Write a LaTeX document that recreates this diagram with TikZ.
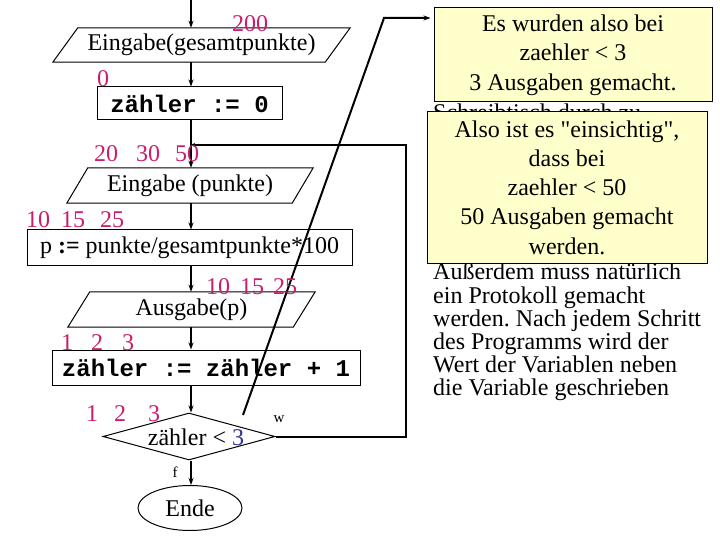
\documentclass[tikz,border=0pt]{standalone}
\usepackage{fontspec}
\setmainfont{Liberation Serif}[Ligatures=TeXOff]
\setmonofont{Liberation Mono}
\frenchspacing
\usetikzlibrary{shapes.geometric,arrows.meta}
\definecolor{mag}{RGB}{200,30,110}
\definecolor{navythree}{RGB}{50,50,140}
\definecolor{noteyellow}{RGB}{255,255,204}
\tikzset{
  base/.style={font=\fontsize{24}{23}\selectfont, inner sep=0pt},
  procbox/.style={base, draw, line width=1pt},
  iotext/.style={base},
  num/.style={base, text=mag},
  small/.style={font=\fontsize{15}{15}\selectfont, inner sep=0pt},
  conn/.style={line width=2pt, -{Stealth[length=7pt,width=5pt]}},
  plainline/.style={line width=2pt},
  note/.style={draw, fill=noteyellow, line width=1pt, inner sep=0pt, align=center,
    font=\fontsize{24}{29.3}\selectfont},
  para/.style={font=\fontsize{24}{23.2}\selectfont, inner sep=0pt, align=left},
}
\newcommand{\iopara}[7]{%
  \node[iotext, minimum width=#4pt, minimum height=#5pt] (#1) at (#2,#3) {#7};
  \draw[line width=1pt] ([xshift=#6/2]#1.north west) -- ([xshift=#6/2]#1.north east)
    -- ([xshift=-#6/2]#1.south east) -- ([xshift=-#6/2]#1.south west) -- cycle;}
\begin{document}
\begin{tikzpicture}[x=1pt,y=-1pt]
\useasboundingbox (0,0) rectangle (720,540);
\fill[white] (0,0) rectangle (720,540);

% right-hand paragraph (partly covered by the notes)
\node[para, anchor=west] (ptop) at (433,112) {Schreibtisch durch zu};
\node[para, anchor=west] (pbody) at (433,332) {Außerdem muss natürlich\\ein Protokoll gemacht\\werden. Nach jedem Schritt\\des Programms wird der\\Wert der Variablen neben\\die Variable geschrieben};

% notes
\node[note, minimum width=278pt, minimum height=94pt] (n1) at (573,55)
  {Es wurden also bei\\zaehler < 3\\3 Ausgaben gemacht.};
\node[note, minimum width=280pt, minimum height=151pt] (n2) at (567,187.5)
  {Also ist es "einsichtig",\\dass bei\\zaehler < 50\\50 Ausgaben gemacht\\werden.};

% flowchart
\coordinate (mx) at (191,0);
\iopara{e1}{201.5}{45}{272}{34}{25}{Eingabe(gesamtpunkte)}
\node[procbox, minimum width=185pt, minimum height=33pt] (z0) at (189.5,103.5) {\ttfamily\bfseries zähler := 0};
\iopara{e2}{190}{185.5}{225}{35}{21}{Eingabe (punkte)}
\node[procbox, minimum width=325pt, minimum height=35pt] (pz) at (189.5,247.5) {p {\bfseries :=} punkte/gesamtpunkte*100};
\iopara{e3}{191.5}{309.5}{225}{35}{22}{Ausgabe(p)}
\node[procbox, minimum width=308pt, minimum height=35pt] (z1) at (206,367.5) {\ttfamily\bfseries zähler := zähler + 1};
\node[diamond, draw, line width=1pt, minimum width=172pt, minimum height=47pt, inner sep=0pt] (dm) at (189,436.5) {};
\node[base] (dmt) at (196,437) {zähler < \textcolor{navythree}{3}};
\node[ellipse, draw, line width=1pt, minimum width=104pt, minimum height=45pt, inner sep=0pt, base] (en) at (190,508) {Ende};

% connectors
\draw[conn] (mx) -- (e1.north -| mx);
\draw[conn] (e1.south -| mx) -- (z0.north -| mx);
\draw[conn] (z0.south -| mx) -- (e2.north -| mx);
\draw[conn] (e2.south -| mx) -- (pz.north -| mx);
\draw[conn] (pz.south -| mx) -- (e3.north -| mx);
\draw[conn] (e3.south -| mx) -- (z1.north -| mx);
\draw[conn] (z1.south -| mx) -- (dm.north -| mx);
\draw[conn] (dm.south -| mx) -- (en.north -| mx);
\coordinate (lp) at (406,145);
\draw[plainline, -{Stealth[length=4pt,width=4pt]}] (dm.east) -| (lp) -- (lp -| mx);

% diagonal pointer to the note
\coordinate (ds) at (243,415);
\coordinate (dt) at (384,18);
\draw[conn] (ds) -- (dt) -- ([xshift=-3pt]dt -| n1.west);

% variable values
\node[num] (v200) at (250,24) {200};
\node[num] (v0) at (103,79) {0};
\node[num] (a1) at (106,154) {20};
\node[num] (a2) at (148,154) {30};
\node[num] (a3) at (187,154) {50};
\node[num] (b1) at (38,220) {10};
\node[num] (b2) at (73,220) {15};
\node[num] (b3) at (112,220) {25};
\node[num] (c1) at (218,287) {10};
\node[num] (c2) at (252,287) {15};
\node[num] (c3) at (285,287) {25};
\node[num] (d1) at (67,343) {1};
\node[num] (d2) at (97,343) {2};
\node[num] (d3) at (128,343) {3};
\node[num] (f1) at (92,414) {1};
\node[num] (f2) at (120,414) {2};
\node[num] (f3) at (154,414) {3};
\node[small] (lw) at (279,419) {w};
\node[small] (lf) at (175,472) {f};
\end{tikzpicture}
\end{document}
